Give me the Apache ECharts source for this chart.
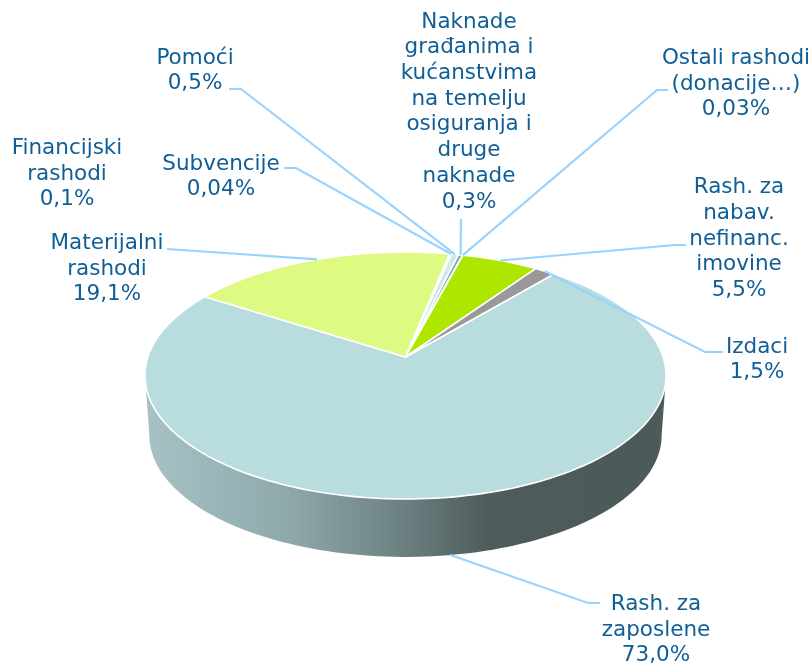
<!DOCTYPE html>
<html>
<head>
<meta charset="utf-8">
<style>
  html, body { margin: 0; padding: 0; background: #fff; }
  #chart { width: 811px; height: 665px; }
</style>
<script src="https://cdn.jsdelivr.net/npm/echarts@6/dist/echarts.min.js"></script>
</head>
<body>
<div id="chart"></div>
<script>
// clockwise, starting from the big slice
const names = ["Rash. za\nzaposlene", "Materijalni\nrashodi", "Financijski\nrashodi", "Subvencije", "Pomoći",
  "Naknade\ngrađanima i\nkućanstvima\nna temelju\nosiguranja i\ndruge\nnaknade", "Ostali rashodi\n(donacije…)",
  "Rash. za\nnabav.\nnefinanc.\nimovine", "Izdaci"];
const values = [73.0, 19.1, 0.1, 0.04, 0.5, 0.3, 0.03, 5.5, 1.5];
const valueLabels = ["73,0%", "19,1%", "0,1%", "0,04%", "0,5%", "0,3%", "0,03%", "5,5%", "1,5%"];
const colors = ["#b9dcdf", "#dffa82", "#e6fbb0", "#f4fbfb", "#d3e8ea", "#6fb2b8", "#3f8f96", "#aee600", "#999999"];

// layout only: label centre, and elbow points of the leader (null = no leader)
const labelCentres = [[656, 630], [107, 269], [67, 174], [221, 177], [195, 71], [469, 112], [736, 84], [739, 239], [757, 360]];
const leaderElbows = [
  [[600, 603], [588, 603]],
  [[167, 249]],
  null,
  [[284, 168], [296, 168]],
  [[229, 89], [241, 89]],
  [[461, 219]],
  [[668, 90], [657, 90]],
  [[686, 245], [675, 245]],
  [[723, 352], [705, 352]]
];

const startAngle = 40;      // degrees clockwise from the back of the pie
const cx = 405.5, apexY = 357;
const radiusX = 257.6, radiusY = 120.7, persp = 0.15;
const depth = 60, bottomScale = 0.983;

const total = values.reduce((a, b) => a + b, 0);

// flat disc -> screen, with a little perspective so the apex sits above the ellipse centre
function project(deg, bottom) {
  const a = deg * Math.PI / 180;
  const w = 1 + persp * Math.cos(a);
  const x = radiusX * Math.sin(a) / w;
  const y = -radiusY * Math.cos(a) / w;
  if (!bottom) return [cx + x, apexY + y];
  const yc = radiusY * persp / (1 - persp * persp);  // ellipse centre below the apex
  return [cx + x * bottomScale, apexY + yc + (y - yc) * bottomScale + depth];
}

function arc(from, to, bottom) {
  const pts = [];
  const n = Math.max(2, Math.ceil(Math.abs(to - from) / 1.5));
  for (let i = 0; i <= n; i++) pts.push(project(from + (to - from) * i / n, bottom));
  return pts;
}

const wallFrom = Math.acos(-persp) * 180 / Math.PI;   // right-most point of the rim
const wallTo = 360 - wallFrom;                        // left-most
const wallFill = new echarts.graphic.LinearGradient(147, 0, 665, 0, [
  { offset: 0, color: "#a6c2c5" },
  { offset: 0.27, color: "#8fa9ab" },
  { offset: 0.5, color: "#6b7f80" },
  { offset: 0.66, color: "#4e5b5b" },
  { offset: 1, color: "#4d5a5a" }
], true);

function sliceRange(index) {
  let sum = 0;
  for (let i = 0; i < index; i++) sum += values[i];
  return [startAngle + sum / total * 360, startAngle + (sum + values[index]) / total * 360];
}

function renderSlice(params, api) {
  const i = params.dataIndex;
  const range = sliceRange(i);
  const children = [];
  const from = Math.max(range[0], wallFrom), to = Math.min(range[1], wallTo);
  if (to > from) {
    children.push({
      type: "polygon",
      shape: { points: arc(from, to, false).concat(arc(from, to, true).reverse()) },
      style: { fill: wallFill }
    });
  }
  children.push({
    type: "polygon",
    shape: { points: [[cx, apexY]].concat(arc(range[0], range[1], false)) },
    style: { fill: colors[i], stroke: "#fff", lineWidth: 1.6, lineJoin: "round" }
  });
  return { type: "group", children: children };
}

function renderLabel(params, api) {
  const i = params.dataIndex;
  const range = sliceRange(i);
  const children = [];
  if (leaderElbows[i]) {
    const mid = (range[0] + range[1]) / 2;
    const front = mid > wallFrom && mid < wallTo;
    children.push({
      type: "polyline",
      shape: { points: leaderElbows[i].concat([project(mid, front)]) },
      style: { stroke: "#99d3ff", lineWidth: 2.2, fill: null }
    });
  }
  children.push({
    type: "text",
    style: {
      text: names[i] + "\n" + valueLabels[i],
      x: labelCentres[i][0],
      y: labelCentres[i][1],
      align: "center",
      verticalAlign: "middle",
      fill: "#0f5e96",
      font: '21.5px "DejaVu Sans", sans-serif',
      lineHeight: 25.7
    }
  });
  return { type: "group", children: children };
}

const chart = echarts.init(document.getElementById("chart"));
chart.setOption({
  animation: false,
  backgroundColor: "#fff",
  series: [
    { type: "custom", coordinateSystem: "none", renderItem: renderSlice, data: values, silent: true, z: 1 },
    { type: "custom", coordinateSystem: "none", renderItem: renderLabel, data: values, silent: true, z: 2 }
  ]
});
</script>
</body>
</html>
